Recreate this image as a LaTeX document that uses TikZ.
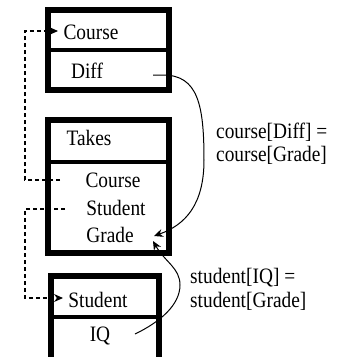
\documentclass[tikz,border=0pt]{standalone}
\usepackage{fontspec}
\usepackage{graphicx}
\setmainfont{Liberation Serif}
\usetikzlibrary{arrows.meta}
\newcommand{\sq}[1]{\scalebox{0.88}[1]{#1}}
\begin{document}
\begin{tikzpicture}[x=1pt,y=-1pt,
  frame/.style={line width=6pt},
  divider/.style={line width=4pt},
  txt/.style={font=\fontsize{22}{24}\selectfont, inner sep=0pt},
  dashconn/.style={line width=1.1pt, dash pattern=on 4pt off 3pt},
  curveconn/.style={line width=1pt},
  tipped/.style={-{Stealth[length=9pt,width=8pt]}}
]
\useasboundingbox (0,0) rectangle (341,357);
\clip (0,0) rectangle (341,357);
% Course box
\draw[frame] (48,10) rectangle (169,90);
\draw[divider] (48,50) -- (169,50);
\node[txt] (cTitle) at (91,32) {\sq{Course}};
\node[txt] (cDiff) at (87,71) {\sq{Diff}};
% Takes box
\draw[frame] (48,120) rectangle (169,253);
\draw[divider] (48,161.5) -- (169,161.5);
\node[txt] (tTitle) at (89,138) {\sq{Takes}};
\node[txt] (tCourse) at (113,180) {\sq{Course}};
\node[txt] (tStudent) at (116,208) {\sq{Student}};
\node[txt] (tGrade) at (110,235) {\sq{Grade}};
% Student box
\draw[frame] (51,276) rectangle (159,364);
\draw[divider] (51,317) -- (159,317);
\node[txt] (sTitle) at (98,300) {\sq{Student}};
\node[txt] (sIQ) at (100,336) {\sq{IQ}};
% labels
\node[txt, anchor=base west] (lab1a) at (216,138) {\sq{course[Diff] =}};
\node[txt, anchor=base west] (lab1b) at (216,161) {\sq{course[Grade]}};
\node[txt, anchor=base west] (lab2a) at (190,283) {\sq{student[IQ] =}};
\node[txt, anchor=base west] (lab2b) at (190,307) {\sq{student[Grade]}};
% coordinates for connectors
\coordinate (cArrow) at (58,31);
\coordinate (sArrow) at (63,298);
\coordinate (tcStart) at (60,180);
\coordinate (tsStart) at (65,209);
\coordinate (diffStart) at (153,75);
\coordinate (gradeTip1) at (154,236);
\coordinate (iqStart) at (135,334);
\coordinate (gradeTip2) at (153,241);
% dashed foreign-key links
\draw[dashconn, tipped] (tcStart) -- (25,180) -- (25,31) -- (cArrow);
\draw[dashconn, tipped] (tsStart) -- (25,209) -- (25,298) -- (sArrow);
% curved constraint arrows
\draw[curveconn, tipped] (diffStart) -- (163,75) .. controls (198,75) and (204,105) .. (204,160) .. controls (204,205) and (185,225) .. (gradeTip1);
\draw[curveconn, tipped] (iqStart) .. controls (160,322) and (180,305) .. (180,285) .. controls (180,268) and (165,262) .. (gradeTip2);
\end{tikzpicture}
\end{document}
